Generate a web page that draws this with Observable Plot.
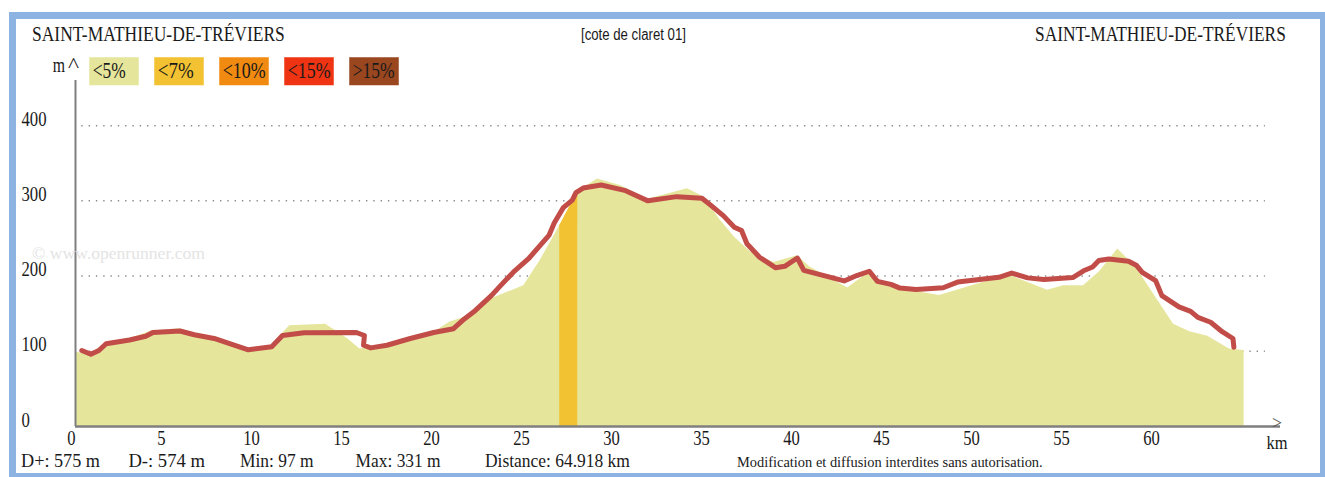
<!DOCTYPE html>
<html><head><meta charset="utf-8">
<script src="https://cdn.jsdelivr.net/npm/d3@7"></script>
<script src="https://cdn.jsdelivr.net/npm/@observablehq/plot@0.6"></script>
<style>
html,body{margin:0;padding:0;background:#fff;}
#wrap{position:relative;width:1325px;height:477px;overflow:hidden;background:#fff;}
#frame{position:absolute;left:9px;top:12px;width:1316px;height:465px;box-sizing:border-box;
  border-top:7px solid #8db3e2;border-left:7px solid #8db3e2;border-bottom:4px solid #8db3e2;border-right:5px solid #8db3e2;}
#chart,#overlay{position:absolute;left:0;top:0;}
#overlay{pointer-events:none;}
</style></head>
<body>
<div id="wrap"><div id="frame"></div><div id="chart"></div><svg id="overlay" width="1325" height="477"></svg></div>
<script>
// ---- data ----
const profileKm   = [0, 0.8, 1.6, 3.0, 4.2, 5.8, 6.6, 7.7, 9.6, 10.9, 11.9, 13.9, 15.1, 15.8, 17.3, 18.6, 19.9, 20.8, 21.6, 22.9, 24.9, 25.8, 26.9, 27.9, 29.0, 30.3, 31.8, 34.0, 34.9, 35.8, 36.6, 37.5, 38.8, 40.1, 40.8, 42.9, 44.2, 44.6, 45.8, 48.0, 50.5, 51.9, 54.0, 54.9, 56.0, 56.9, 57.9, 58.9, 61.0, 61.9, 62.9, 64.1, 64.918];
const profileElev = [99, 95, 110, 116, 127, 130, 124, 118, 103, 108, 134, 136, 117, 103, 108, 117, 125, 139, 145, 168, 187, 220, 267, 312, 329, 320, 302, 316, 305, 275, 252, 232, 218, 227, 212, 184, 207, 190, 183, 174, 192, 201, 181, 187, 187, 206, 236, 212, 136, 126, 120, 103, 101];

const routeKm   = [0.35, 0.85, 1.3, 1.7, 3.0, 3.9, 4.3, 5.8, 6.6, 7.7, 9.6, 10.9, 11.5, 12.7, 15.6, 16.05, 16.0, 16.4, 17.3, 18.6, 19.9, 21.0, 21.6, 22.2, 23.1, 23.6, 24.4, 25.2, 26.3, 26.6, 27.1, 27.6, 27.8, 28.2, 29.2, 30.5, 31.8, 33.4, 34.8, 35.3, 36.0, 36.6, 37.0, 37.3, 38.0, 38.9, 39.4, 40.1, 40.46, 42.7, 43.4, 44.1, 44.55, 45.3, 45.8, 46.7, 48.2, 49.0, 51.3, 52.0, 52.9, 53.8, 55.4, 56.0, 56.5, 56.85, 57.4, 58.5, 58.95, 59.26, 60.0, 60.35, 61.3, 61.95, 62.35, 63.06, 63.7, 64.3, 64.35];
const routeElev = [101, 96, 101, 110, 115, 120, 125, 127, 122, 117, 102, 106, 121, 124.5, 125, 121, 108, 104.5, 108, 117, 125, 130, 143, 154, 174, 187, 207, 224, 254, 271, 291, 301, 311, 317, 321, 314, 300, 305.6, 303.5, 294, 280, 265, 260.5, 243, 225, 211, 213, 224, 207.5, 193.5, 200.7, 206.4, 193, 189, 184, 182, 184.5, 192, 198.4, 204, 197.6, 195.3, 198, 207, 212, 220.6, 222.8, 219.7, 214, 205, 194, 174, 159, 153, 145, 138.6, 126, 117, 105.4];

const steepRange = [26.9, 27.9];           // section shown in the "<7%" class
const xTicks = [0, 5, 10, 15, 20, 25, 30, 35, 40, 45, 50, 55, 60];
const yTicks = [0, 100, 200, 300, 400];
const gridLevels = [100, 200, 300, 400];
const gridExtent = [0.35, 66.1];
const xDomain = [0, 66.94];
const yDomain = [0, 460];

const legendLabels = ["<5%", "<7%", "<10%", "<15%", ">15%"];
const legendColors = ["#e5e59b", "#f2c232", "#f08a10", "#ee3413", "#9a4720"];
const titleStart = "SAINT-MATHIEU-DE-TRÉVIERS";
const titleEnd = "SAINT-MATHIEU-DE-TRÉVIERS";
const routeName = "[cote de claret 01]";
const statTexts = ["D+: 575 m", "D-: 574 m", "Min: 97 m", "Max: 331 m", "Distance: 64.918 km"];
const notice = "Modification et diffusion interdites sans autorisation.";
const watermark = "© www.openrunner.com";

// ---- build ----
const profile = profileKm.map((km, i) => ({km, elev: profileElev[i]}));
const route = routeKm.map((km, i) => ({km, elev: routeElev[i]}));
const steep = profile.filter(d => d.km >= steepRange[0] && d.km <= steepRange[1]);

const SERIF = "'Liberation Serif','Times New Roman',serif";

const plot = Plot.plot({
  width: 1325, height: 477,
  marginLeft: 75, marginRight: 45, marginTop: 80, marginBottom: 51,
  style: {fontFamily: SERIF, color: "#1a1a1a", background: "transparent", overflow: "visible"},
  x: {domain: xDomain, label: null},
  y: {domain: yDomain, label: null},
  marks: [
    Plot.ruleY(gridLevels, {y: d => d, x1: gridExtent[0], x2: gridExtent[1], stroke: "#8c8c8c", strokeWidth: 1.5, strokeDasharray: "1.4,5.9"}),
    Plot.areaY(profile, {x: "km", y: "elev", fill: "#e5e59b"}),
    Plot.areaY(steep, {x: "km", y: "elev", fill: "#f2c232"}),
    Plot.line(route, {x: "km", y: "elev", stroke: "#c24d48", strokeWidth: 5, strokeLinejoin: "round", strokeLinecap: "round"}),
    Plot.ruleX([0], {stroke: "#7f7f7f", strokeWidth: 2}),
    Plot.ruleY([0], {stroke: "#7f7f7f", strokeWidth: 2.5}),
    Plot.axisX({ticks: xTicks, tickSize: 0, tickPadding: 18, fontSize: 20, dx: -4}),
    Plot.axisY({ticks: yTicks, tickSize: 0, tickPadding: 0, textAnchor: "start", dx: -54, dy: 0, fontSize: 22})
  ]
});
document.getElementById("chart").appendChild(plot);

function squeeze(sel, s) {
  sel.each(function () {
    const x = +this.getAttribute("x") || 0, y = +this.getAttribute("y") || 0;
    this.removeAttribute("x"); this.removeAttribute("y");
    const tr = this.getAttribute("transform") || "";
    this.setAttribute("transform", `${tr} translate(${x},${y}) scale(${s},1)`);
  });
}
squeeze(d3.select(plot).selectAll('g[aria-label="x-axis tick label"] text'), 0.83);
squeeze(d3.select(plot).selectAll('g[aria-label="y-axis tick label"] text'), 0.76);

// ---- overlay texts (condensed by a horizontal scale fitted to the target width) ----
const ov = d3.select("#overlay");
function label(txt, x, y, size, len, opts = {}) {
  const t = ov.append("text").attr("x", 0).attr("y", 0)
    .attr("font-family", opts.family || SERIF).attr("font-size", size)
    .attr("fill", opts.fill || "#1a1a1a").text(txt);
  const natural = t.node().getComputedTextLength() || len;
  const s = len ? len / natural : 1;
  t.attr("transform", `translate(${x},${y}) scale(${s},1)`);
  return t;
}
label(titleStart, 32, 40.5, 21, 253);
label(titleEnd, 1035, 40.5, 21, 251);
label(routeName, 581, 39.5, 16, 105, {family: "'Liberation Sans Narrow','Liberation Sans',sans-serif"});
label(watermark, 32, 259, 17, 173, {fill: "#e4e4e4"});

const legendW = [33, 36, 43, 43, 42];
legendLabels.forEach((lab, i) => {
  const x0 = 89 + i * 65;
  ov.append("rect").attr("x", x0).attr("y", 57).attr("width", 50).attr("height", 28.5)
    .attr("fill", legendColors[i]).attr("stroke", "rgba(255,255,255,0.5)").attr("stroke-width", 1);
  label(lab, x0 + 3.7, 78.3, 24, legendW[i]);
});
label("m", 52.7, 71.7, 22, 12.3);
label("^", 68, 72, 22, 11);
label(">", 1272, 428.5, 18, 10, {fill: "#555"});
label("km", 1266.5, 449, 19, 21);

const statX = [21, 128.4, 240, 355.6, 485];
const statW = [79, 76.6, 73.5, 85, 145];
statTexts.forEach((s, i) => label(s, statX[i], 467, 19, statW[i]));
label(notice, 737, 467, 14, 306);
</script>
</body></html>
